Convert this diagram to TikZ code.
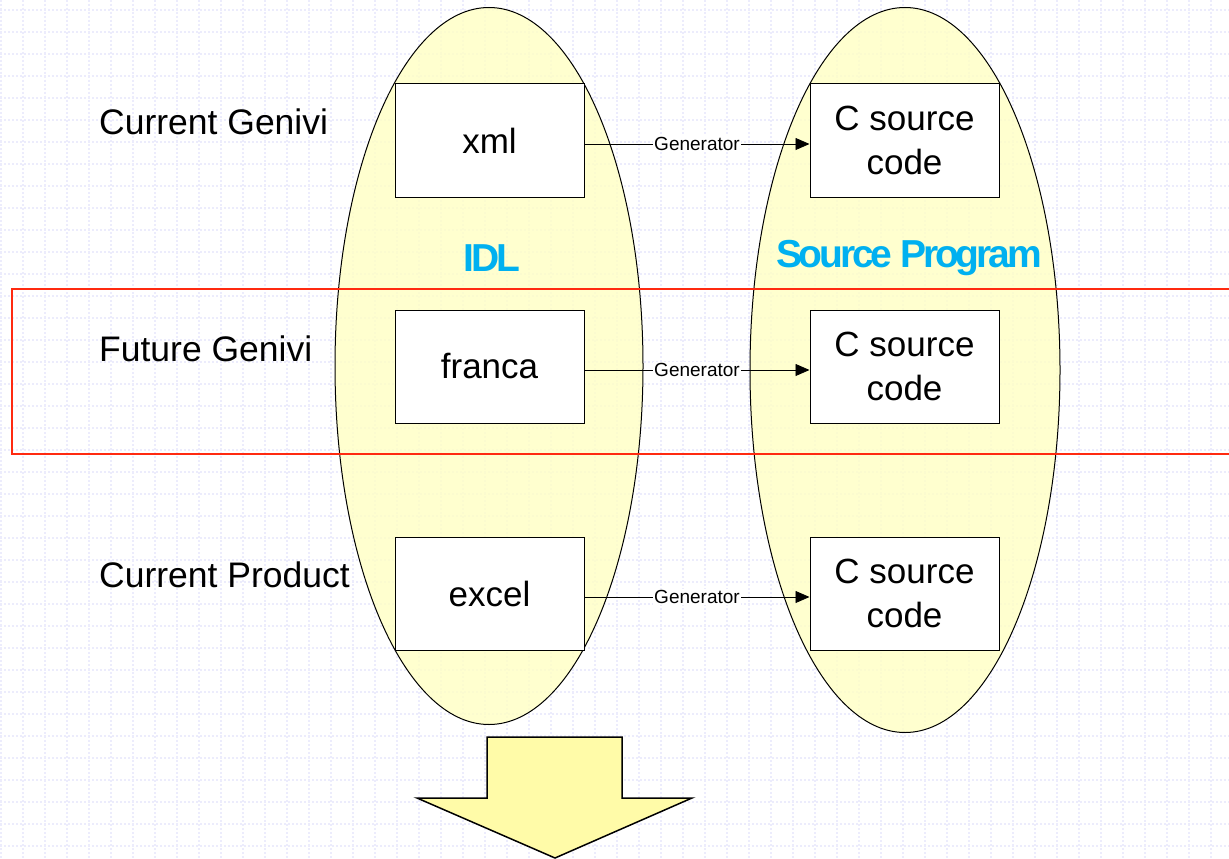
\documentclass[tikz,border=0pt]{standalone}
\usepackage{fontspec}
\setmainfont{Liberation Sans}
\newfontfamily\condfont[LetterSpace=-8]{Liberation Sans}
\usetikzlibrary{shapes.geometric,arrows.meta}
\definecolor{gridc}{HTML}{ECECFC}
\definecolor{ellfill}{HTML}{FFFFC4}
\definecolor{arrfill}{HTML}{FFFBA8}
\definecolor{cyantxt}{HTML}{00B0F0}
\definecolor{redline}{HTML}{FF2A10}
\tikzset{
  ell/.style={ellipse, draw=black, line width=1pt, fill=ellfill, fill opacity=0.8, text opacity=1},
  cbox/.style={draw=black, line width=1pt, fill=white, minimum width=189pt, minimum height=113pt, inner sep=0pt, align=center, font=\fontsize{35}{44}\selectfont},
  rowlabel/.style={anchor=base west, inner sep=0pt, font=\fontsize{35.5}{42}\selectfont},
  gen/.style={line width=0.8pt, -{Triangle[length=14pt,width=12pt]}},
  genlabel/.style={fill=white, inner sep=1.5pt, font=\fontsize{19}{22}\selectfont},
  title/.style={text=cyantxt, inner sep=0pt, font=\condfont\bfseries\fontsize{39}{42}\selectfont}
}
\begin{document}
\begin{tikzpicture}[x=1pt,y=-1pt]
\useasboundingbox (0,0) rectangle (1229,859);
\fill[white] (0,0) rectangle (1229,859);
% dotted grid
\foreach \yy in {10,32,...,858} \draw[gridc, line width=2pt, dash pattern=on 2pt off 2pt] (0,\yy) -- (1229,\yy);
\foreach \xx in {1,23,...,1228} \draw[gridc, line width=2pt, dash pattern=on 2pt off 2pt] (\xx,0) -- (\xx,859);
% ellipses
\node[ell, minimum width=308pt, minimum height=717pt] (idl) at (489,366) {};
\node[ell, minimum width=310pt, minimum height=725pt] (src) at (905,370) {};
% titles
\node[title] (idlt) at (492,258) {IDL};
\node[title] (srct) at (909,258) {Source Program};
% red frame
\draw[redline, line width=1.5pt] (1229,289) -- (12,289) -- (12,454) -- (1229,454);
% row labels
\node[rowlabel] (l1) at (99,134) {Current Genivi};
\node[rowlabel] (l2) at (99,361) {Future Genivi};
\node[rowlabel] (l3) at (99,587) {Current Product};
% boxes
\node[cbox] (xml) at (489.5,140.5) {xml};
\node[cbox] (franca) at (489.5,366.5) {franca};
\node[cbox] (excel) at (489.5,593.5) {excel};
\node[cbox] (c1) at (904.5,140.5) {C source\\code};
\node[cbox] (c2) at (904.5,366.5) {C source\\code};
\node[cbox] (c3) at (904.5,593.5) {C source\\code};
% generator arrows
\draw[gen] ([yshift=-3.5pt]xml.east) -- node[genlabel] {Generator} ([yshift=-3.5pt]c1.west);
\draw[gen] ([yshift=-3.5pt]franca.east) -- node[genlabel] {Generator} ([yshift=-3.5pt]c2.west);
\draw[gen] ([yshift=-3.5pt]excel.east) -- node[genlabel] {Generator} ([yshift=-3.5pt]c3.west);
% big down arrow
\draw[black, line width=1.5pt, fill=arrfill] (487,737) -- (622,737) -- (622,798) -- (692,798) -- (555,858) -- (417,798) -- (487,798) -- cycle;
\end{tikzpicture}
\end{document}
